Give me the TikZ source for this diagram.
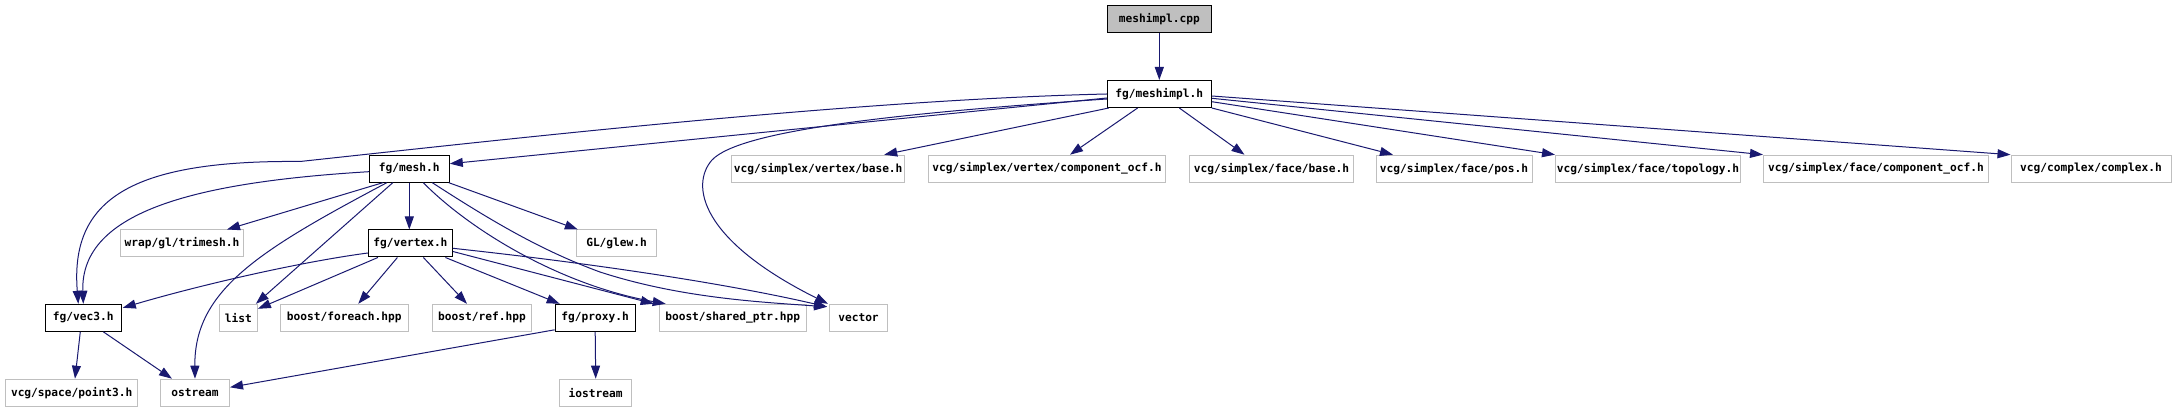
\documentclass[tikz,border=0pt]{standalone}
\usepackage{fontspec}
\newfontfamily\nodefont{DejaVu Sans Mono Bold}
\usetikzlibrary{arrows.meta,calc}
\definecolor{edgeblue}{HTML}{191970}
\definecolor{leafgray}{HTML}{BFBFBF}
\tikzset{
  box/.style={draw=black, line width=1pt, minimum height=27pt, inner sep=0pt,
    font=\nodefont\fontsize{11.2}{13}\selectfont},
  leaf/.style={box, draw=leafgray},
  rootbox/.style={box, fill=leafgray},
  dep/.style={draw=edgeblue, line width=1pt, -{Triangle[length=13pt,width=9pt]}}
}
\begin{document}
\begin{tikzpicture}[x=1pt,y=-1pt]
\fill[white] (0,0) rectangle (2176,411);
\useasboundingbox (0,0) rectangle (2176,411);

\node[rootbox, minimum width=104pt] (cpp) at (1159.3,19.5) {meshimpl.cpp};
\node[box, minimum width=104pt] (mi) at (1159.3,94) {fg/meshimpl.h};

\node[box, minimum width=80pt] (mesh) at (409.3,168.7) {fg/mesh.h};
\node[leaf, minimum width=173pt] (vbase) at (818.2,168.7) {vcg/simplex/vertex/base.h};
\node[leaf, minimum width=237pt] (vocf) at (1047,168.7) {vcg/simplex/vertex/component\_ocf.h};
\node[leaf, minimum width=164pt] (fbase) at (1271.5,168.7) {vcg/simplex/face/base.h};
\node[leaf, minimum width=156pt] (fpos) at (1454,168.7) {vcg/simplex/face/pos.h};
\node[leaf, minimum width=185pt] (ftopo) at (1648,168.7) {vcg/simplex/face/topology.h};
\node[leaf, minimum width=225pt] (focf) at (1876,168.7) {vcg/simplex/face/component\_ocf.h};
\node[leaf, minimum width=160pt] (cplx) at (2091,168.7) {vcg/complex/complex.h};

\node[leaf, minimum width=123pt] (trimesh) at (182,243.5) {wrap/gl/trimesh.h};
\node[box, minimum width=84pt] (vertex) at (410.4,243.5) {fg/vertex.h};
\node[leaf, minimum width=80.5pt] (glew) at (616.6,243.5) {GL/glew.h};

\node[box, minimum width=76pt] (vec3) at (83.3,317.8) {fg/vec3.h};
\node[leaf, minimum width=38pt] (list) at (238.4,317.8) {list};
\node[leaf, minimum width=128pt] (foreach) at (344.3,317.8) {boost/foreach.hpp};
\node[leaf, minimum width=99pt] (ref) at (482,317.8) {boost/ref.hpp};
\node[box, minimum width=80pt] (proxy) at (595.2,317.8) {fg/proxy.h};
\node[leaf, minimum width=147pt] (shared) at (732.7,317.8) {boost/shared\_ptr.hpp};
\node[leaf, minimum width=58pt] (vector) at (858.5,317.8) {vector};

\node[leaf, minimum width=132pt] (point3) at (71.7,392.7) {vcg/space/point3.h};
\node[leaf, minimum width=69pt] (ostream) at (195,392.7) {ostream};
\node[leaf, minimum width=72pt] (iostream) at (595.7,392.7) {iostream};

% meshimpl.cpp
\draw[dep] (cpp) -- (mi);
% fg/meshimpl.h
\draw[dep] ($(mi.south west)+(2,0)$) -- ($(vbase.north)+(66,0)$);
\draw[dep] ($(mi.south)+(-21.7,0)$) -- ($(vocf.north)+(23,0)$);
\draw[dep] ($(mi.south)+(20,0)$) -- ($(fbase.north)+(-27,0)$);
\draw[dep] (mi.south east) -- ($(fpos.north)+(-61,0)$);
\draw[dep] ($(mi.east)+(0,7.7)$) -- (ftopo.north west);
\draw[dep] ($(mi.east)+(0,4.3)$) -- (focf.north west);
\draw[dep] ($(mi.east)+(0,2)$) -- (cplx.north west);
\draw[dep] ($(mi.west)+(0,4)$) -- ($(mesh.east)+(0,-5)$);
\draw[dep] (mi.west) .. controls (850,100) and (500,140) .. (300,161.5)
  .. controls (130,160) and (70,200) .. ($(vec3.north)+(-5,0)$);
\draw[dep] ($(mi.west)+(0,5)$) .. controls (900,113) and (740,130) .. (712,160)
  .. controls (690,185) and (700,240) .. ($(vector.north west)+(-1,0)$);
% fg/mesh.h
\draw[dep] ($(mesh.west)+(0,3)$) .. controls (200,182) and (80,210) .. (vec3.north);
\draw[dep] ($(mesh.south west)+(14,0)$) -- ($(trimesh.north)+(45,0)$);
\draw[dep] ($(mesh.south west)+(18,0)$) .. controls (260,250) and (194,290) .. (ostream.north);
\draw[dep] ($(mesh.south west)+(24,0)$) -- ($(list.north east)+(-2,0)$);
\draw[dep] (mesh.south) -- (mesh.south |- vertex.north);
\draw[dep] ($(mesh.south)+(14,0)$) .. controls (470,230) and (560,285) .. ($(shared.north west)+(7,0)$);
\draw[dep] ($(mesh.south)+(23,0)$) .. controls (490,220) and (540,250) .. (600,272)
  .. controls (680,298) and (760,302) .. ($(vector.north west)+(-2,3)$);
\draw[dep] ($(mesh.south east)+(-1,0)$) -- ($(glew.north west)+(2,0)$);
% fg/vertex.h
\draw[dep] ($(vertex.west)+(0,9.5)$) .. controls (300,262) and (200,285) .. ($(vec3.north east)+(1,4)$);
\draw[dep] ($(vertex.south west)+(10,0)$) -- ($(list.north east)+(0,5)$);
\draw[dep] ($(vertex.south)+(-13,0)$) -- ($(foreach.north)+(14,0)$);
\draw[dep] ($(vertex.south)+(13,0)$) -- ($(ref.north)+(-15,0)$);
\draw[dep] ($(vertex.south east)+(-7.5,0)$) -- ($(proxy.north west)+(5,0)$);
\draw[dep] ($(vertex.east)+(0,8)$) -- ($(shared.north west)+(-5,0)$);
\draw[dep] ($(vertex.east)+(0,4.8)$) .. controls (580,262) and (720,282) .. ($(vector.north west)+(-2,3)$);
% fg/vec3.h
\draw[dep] ($(vec3.south)+(-3,0)$) -- ($(point3.north)+(3.3,0)$);
\draw[dep] ($(vec3.south)+(20,0)$) -- ($(ostream.north)+(-23,0)$);
% fg/proxy.h
\draw[dep] ($(proxy.south west)+(0,-2)$) -- ($(ostream.east)+(0,-5.4)$);
\draw[dep] (proxy.south) -- (iostream.north);
\end{tikzpicture}
\end{document}
